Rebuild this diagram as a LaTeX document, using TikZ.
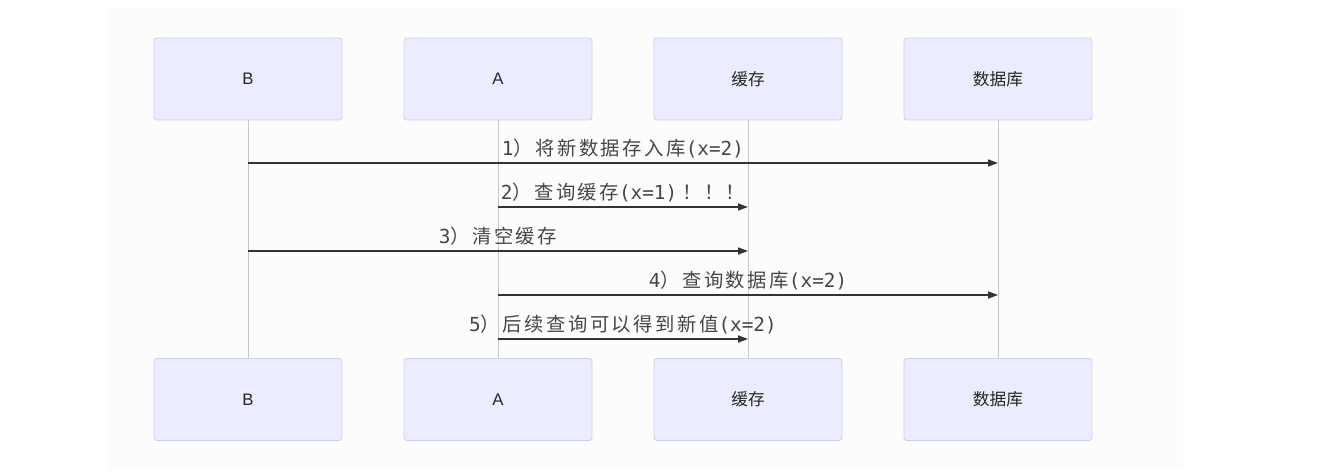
\documentclass[tikz,border=0pt]{standalone}
\usepackage{fontspec}
\setmainfont{Liberation Sans}
\newfontfamily\cjk[LetterSpace=13]{Noto Sans CJK SC}
\newfontfamily\cjkbox{Noto Sans CJK SC}
\newfontfamily\mono{DejaVu Sans Mono}
\usepackage{tikz}
\usetikzlibrary{arrows.meta,positioning}
\definecolor{ActFill}{RGB}{236,236,255}
\definecolor{ActLine}{RGB}{210,206,242}
\definecolor{LifeC}{RGB}{200,200,200}
\definecolor{MsgC}{RGB}{51,51,51}
\definecolor{TxtC}{RGB}{70,70,70}
\definecolor{BgC}{RGB}{252,252,252}
\tikzset{
  actor/.style={rectangle,rounded corners=1.6pt,draw=ActLine,fill=ActFill,
                line width=0.5pt,minimum width=3.76cm,minimum height=1.64cm,
                inner sep=0pt,font=\fontsize{9.5}{11}\selectfont,text=black!85},
  life/.style={LifeC,line width=0.55pt},
  msg/.style={-{Triangle[length=2mm,width=1.4mm]},MsgC,line width=0.85pt},
  mtxt/.style={anchor=base,inner sep=0pt,yshift=0.16cm,text=TxtC,
               font=\mono\fontsize{11}{13}\selectfont},
}

\begin{document}
\begin{tikzpicture}[x=0.02cm,y=-0.02cm]
  \useasboundingbox (0,0) rectangle (1333,473);
  \fill[BgC] (109,8) rectangle (1183,470);

  % participants, top and bottom
  \node[actor] (tB) at (248,79) {B};
  \node[actor] (tA) at (498,79) {A};
  \node[actor] (tC) at (748,79) {\cjkbox 缓存};
  \node[actor] (tD) at (998,79) {\cjkbox 数据库};
  \node[actor] (bB) at (248,399.5) {B};
  \node[actor] (bA) at (498,399.5) {A};
  \node[actor] (bC) at (748,399.5) {\cjkbox 缓存};
  \node[actor] (bD) at (998,399.5) {\cjkbox 数据库};

  \draw[life] (tB) -- (bB);
  \draw[life] (tA) -- (bA);
  \draw[life] (tC) -- (bC);
  \draw[life] (tD) -- (bD);

  % messages
  \coordinate (m1) at (0,163);
  \coordinate (m2) at (0,207);
  \coordinate (m3) at (0,251);
  \coordinate (m4) at (0,295);
  \coordinate (m5) at (0,339);

  \draw[msg] (tB |- m1) -- node[mtxt] {1{\cjk ）将新数据存入库}(x=2)} (tD |- m1);
  \draw[msg] (tA |- m2) -- node[mtxt] {2{\cjk ）查询缓存}(x=1)\kern0.1cm{\cjk ！！！}} (tC |- m2);
  \draw[msg] (tB |- m3) -- node[mtxt] {3{\cjk ）清空缓存}} (tC |- m3);
  \draw[msg] (tA |- m4) -- node[mtxt] {4{\cjk ）查询数据库}(x=2)} (tD |- m4);
  \draw[msg] (tA |- m5) -- node[mtxt] {5{\cjk ）后续查询可以得到新值}(x=2)} (tC |- m5);
\end{tikzpicture}
\end{document}
